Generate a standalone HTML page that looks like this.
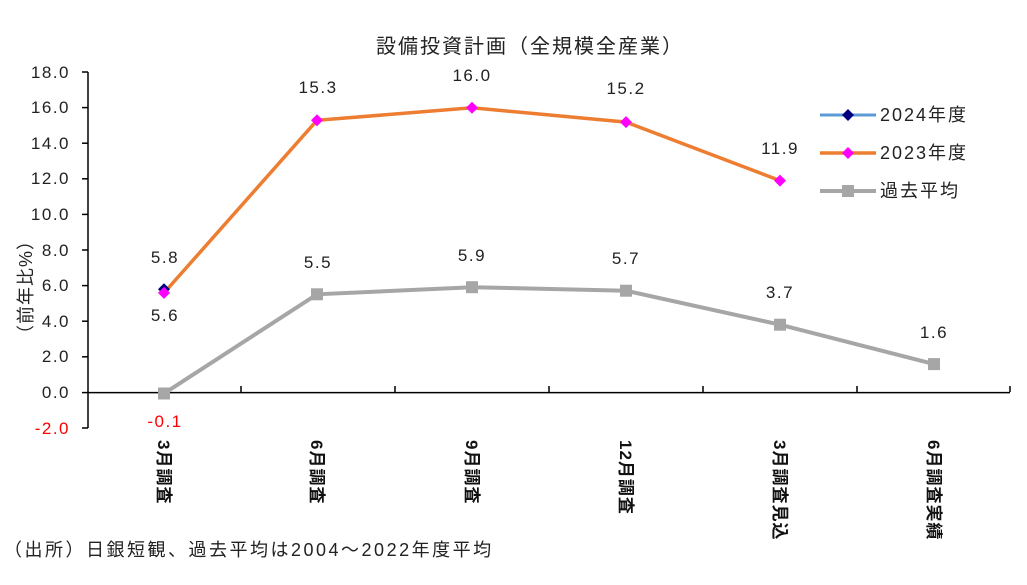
<!DOCTYPE html>
<html><head><meta charset="utf-8"><style>body{margin:0;background:#fff}svg{display:block}</style></head><body>
<svg width="1027" height="585" xmlns="http://www.w3.org/2000/svg" font-family="'Liberation Sans','Noto Sans CJK JP',sans-serif">
<text x="530" y="53" font-size="20" letter-spacing="2" text-anchor="middle" fill="#222">設備投資計画（全規模全産業）</text>
<g stroke="#000" stroke-width="1.5">
<line x1="88" y1="72" x2="88" y2="428"/>
<line x1="88" y1="392.6" x2="1010" y2="392.6"/>
<line x1="82" y1="72" x2="88" y2="72"/><line x1="82" y1="107.6" x2="88" y2="107.6"/><line x1="82" y1="143.2" x2="88" y2="143.2"/><line x1="82" y1="178.8" x2="88" y2="178.8"/><line x1="82" y1="214.4" x2="88" y2="214.4"/><line x1="82" y1="250" x2="88" y2="250"/><line x1="82" y1="285.6" x2="88" y2="285.6"/><line x1="82" y1="321.2" x2="88" y2="321.2"/><line x1="82" y1="356.8" x2="88" y2="356.8"/><line x1="82" y1="392.6" x2="88" y2="392.6"/><line x1="82" y1="428" x2="88" y2="428"/>
<line x1="241" y1="386" x2="241" y2="392"/><line x1="395" y1="386" x2="395" y2="392"/><line x1="549" y1="386" x2="549" y2="392"/><line x1="703" y1="386" x2="703" y2="392"/><line x1="857" y1="386" x2="857" y2="392"/><line x1="1010" y1="386" x2="1010" y2="392"/>
</g>
<g font-size="17" letter-spacing="1.5" fill="#222" text-anchor="end">
<text x="70" y="78">18.0</text><text x="70" y="113">16.0</text><text x="70" y="149">14.0</text><text x="70" y="184">12.0</text><text x="70" y="220">10.0</text><text x="70" y="256">8.0</text><text x="70" y="291">6.0</text><text x="70" y="327">4.0</text><text x="70" y="362">2.0</text><text x="70" y="398">0.0</text><text x="70" y="434" fill="#f00">-2.0</text>
</g>
<text transform="translate(32,287) rotate(-90)" font-size="18" letter-spacing="1" text-anchor="middle" fill="#222">（前年比%）</text>
<polyline points="164,393.5 317,294.3 472,287.2 626,290.7 780,324.7 934,364.1" fill="none" stroke="#a6a6a6" stroke-width="4"/>
<g fill="#a6a6a6"><rect x="158" y="387.5" width="12" height="12"/><rect x="311" y="288.3" width="12" height="12"/><rect x="466" y="281.2" width="12" height="12"/><rect x="620" y="284.7" width="12" height="12"/><rect x="774" y="318.7" width="12" height="12"/><rect x="928" y="358.1" width="12" height="12"/></g>
<polyline points="164,292.9 317,120.3 472,107.8 626,122.1 780,180.6" fill="none" stroke="#ed7d31" stroke-width="3.5"/>
<path d="M164,283.3 l6,6 -6,6 -6,-6z" fill="#000080"/>
<g fill="#ff00ff"><path d="M164,286.9 l6,6 -6,6 -6,-6z"/><path d="M317,114.3 l6,6 -6,6 -6,-6z"/><path d="M472,101.8 l6,6 -6,6 -6,-6z"/><path d="M626,116.1 l6,6 -6,6 -6,-6z"/><path d="M780,174.6 l6,6 -6,6 -6,-6z"/></g>
<g font-size="17" letter-spacing="1.5" fill="#222" text-anchor="middle">
<text x="165" y="263">5.8</text><text x="165" y="321">5.6</text><text x="165" y="427" fill="#f00">-0.1</text>
<text x="318" y="93">15.3</text><text x="472" y="81">16.0</text><text x="626" y="94">15.2</text><text x="780" y="154">11.9</text>
<text x="318" y="268">5.5</text><text x="472" y="261">5.9</text><text x="626" y="264">5.7</text><text x="780" y="298">3.7</text><text x="934" y="338">1.6</text>
</g>
<g font-size="17" letter-spacing="1" fill="#111" font-weight="bold">
<text transform="translate(158,440) rotate(90)">3月調査</text>
<text transform="translate(311,440) rotate(90)">6月調査</text>
<text transform="translate(466,440) rotate(90)">9月調査</text>
<text transform="translate(620,440) rotate(90)">12月調査</text>
<text transform="translate(774,440) rotate(90)">3月調査見込</text>
<text transform="translate(928,440) rotate(90)">6月調査実績</text>
</g>
<line x1="820" y1="115" x2="876" y2="115" stroke="#5b9bd5" stroke-width="3"/><path d="M848,109 l6,6 -6,6 -6,-6z" fill="#000080"/>
<line x1="820" y1="153" x2="876" y2="153" stroke="#ed7d31" stroke-width="3.5"/><path d="M848,147 l6,6 -6,6 -6,-6z" fill="#ff00ff"/>
<line x1="820" y1="191" x2="876" y2="191" stroke="#a6a6a6" stroke-width="4"/><rect x="842" y="185" width="12" height="12" fill="#a6a6a6"/>
<g font-size="18" letter-spacing="2" fill="#222"><text x="880" y="121">2024年度</text><text x="880" y="159">2023年度</text><text x="880" y="197">過去平均</text></g>
<text x="4" y="556" font-size="18" letter-spacing="2.5" fill="#222">（出所）日銀短観、過去平均は2004～2022年度平均</text>
</svg>
</body></html>
